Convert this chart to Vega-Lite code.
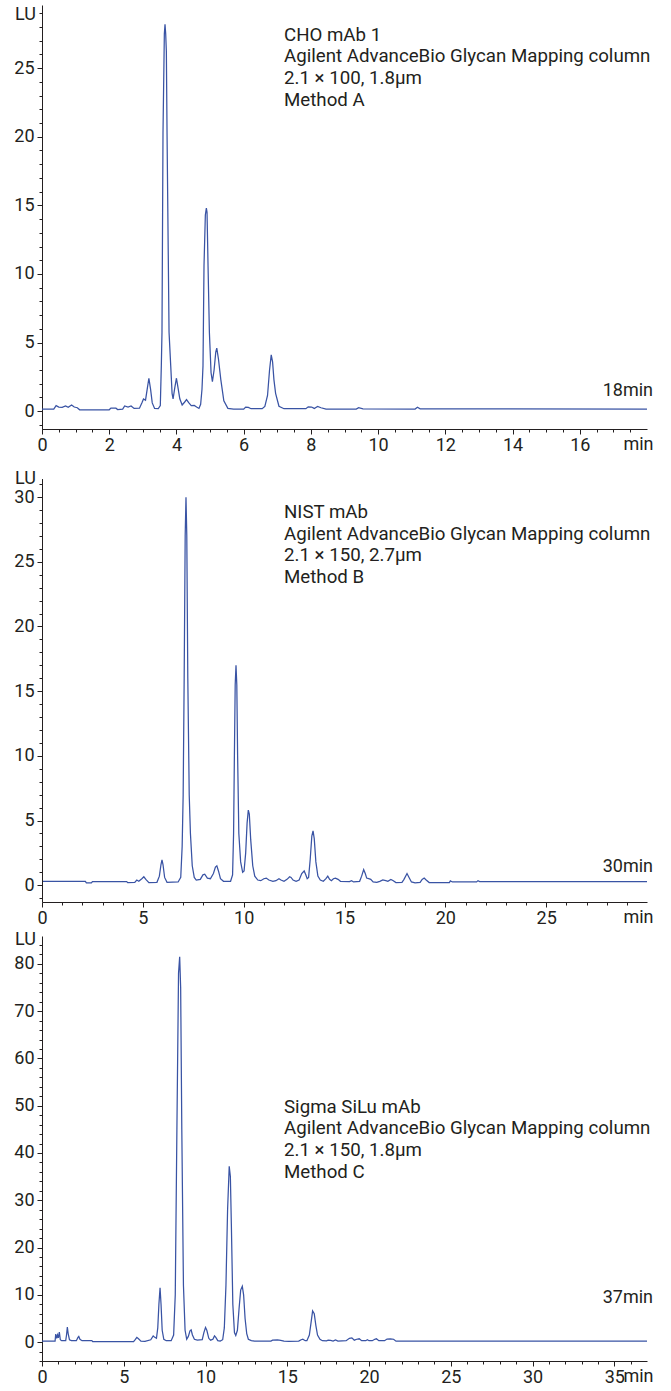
{
  "$schema": "https://vega.github.io/schema/vega-lite/v6.json",
  "padding": {"left": 13, "top": 5, "right": 5, "bottom": 5},
  "background": "white",
  "bounds": "flush",
  "spacing": 34,
  "datasets": {
    "p1": [
      {"t":0,"s":0.15},{"t":0.35,"s":0.15},{"t":0.42,"s":0.4},{"t":0.5,"s":0.3},{"t":0.6,"s":0.28},{"t":0.7,"s":0.38},{"t":0.78,"s":0.28},{"t":0.88,"s":0.45},{"t":0.96,"s":0.3},{"t":1.05,"s":0.25},{"t":1.12,"s":0.1},{"t":2.0,"s":0.1},{"t":2.05,"s":0.22},{"t":2.2,"s":0.22},{"t":2.25,"s":0.12},{"t":2.4,"s":0.15},{"t":2.46,"s":0.38},{"t":2.56,"s":0.3},{"t":2.65,"s":0.38},{"t":2.74,"s":0.2},{"t":2.9,"s":0.22},{"t":2.98,"s":0.65},{"t":3.02,"s":0.89},{"t":3.08,"s":0.8},{"t":3.13,"s":1.6},{"t":3.18,"s":2.4},{"t":3.23,"s":1.6},{"t":3.28,"s":0.6},{"t":3.35,"s":0.2},{"t":3.46,"s":0.18},{"t":3.52,"s":0.4},{"t":3.55,"s":3.3},{"t":3.57,"s":5.75},{"t":3.6,"s":20.3},{"t":3.64,"s":27.5},{"t":3.66,"s":28.2},{"t":3.68,"s":27.5},{"t":3.7,"s":26.2},{"t":3.72,"s":20.3},{"t":3.78,"s":5.75},{"t":3.83,"s":3.3},{"t":3.87,"s":1.3},{"t":3.9,"s":0.89},{"t":3.95,"s":1.7},{"t":4.0,"s":2.4},{"t":4.04,"s":1.8},{"t":4.1,"s":0.9},{"t":4.17,"s":0.45},{"t":4.24,"s":0.65},{"t":4.3,"s":0.84},{"t":4.37,"s":0.6},{"t":4.44,"s":0.4},{"t":4.53,"s":0.42},{"t":4.6,"s":0.3},{"t":4.67,"s":0.2},{"t":4.72,"s":0.5},{"t":4.76,"s":1.6},{"t":4.79,"s":3.3},{"t":4.82,"s":10.6},{"t":4.86,"s":14.3},{"t":4.89,"s":14.8},{"t":4.91,"s":14.5},{"t":4.94,"s":10.6},{"t":4.98,"s":5.75},{"t":5.03,"s":2.8},{"t":5.07,"s":2.15},{"t":5.12,"s":3.0},{"t":5.17,"s":4.3},{"t":5.2,"s":4.6},{"t":5.25,"s":3.8},{"t":5.32,"s":2.3},{"t":5.41,"s":0.75},{"t":5.53,"s":0.2},{"t":5.7,"s":0.15},{"t":6.0,"s":0.15},{"t":6.06,"s":0.3},{"t":6.14,"s":0.28},{"t":6.22,"s":0.18},{"t":6.55,"s":0.18},{"t":6.63,"s":0.35},{"t":6.71,"s":1.14},{"t":6.77,"s":3.0},{"t":6.82,"s":4.1},{"t":6.86,"s":3.6},{"t":6.9,"s":2.3},{"t":6.95,"s":1.3},{"t":7.05,"s":0.36},{"t":7.2,"s":0.18},{"t":7.85,"s":0.18},{"t":7.92,"s":0.32},{"t":8.02,"s":0.3},{"t":8.1,"s":0.2},{"t":8.2,"s":0.35},{"t":8.3,"s":0.25},{"t":8.45,"s":0.15},{"t":9.35,"s":0.15},{"t":9.42,"s":0.25},{"t":9.55,"s":0.17},{"t":11.1,"s":0.15},{"t":11.17,"s":0.28},{"t":11.25,"s":0.17},{"t":18,"s":0.15}
    ],
    "p2": [
      {"t":0,"s":0.3},{"t":2.15,"s":0.3},{"t":2.2,"s":0.18},{"t":2.45,"s":0.18},{"t":2.5,"s":0.28},{"t":4.2,"s":0.28},{"t":4.25,"s":0.2},{"t":4.6,"s":0.22},{"t":4.7,"s":0.4},{"t":4.8,"s":0.3},{"t":4.95,"s":0.5},{"t":5.05,"s":0.65},{"t":5.15,"s":0.45},{"t":5.3,"s":0.2},{"t":5.7,"s":0.22},{"t":5.82,"s":0.7},{"t":5.9,"s":1.6},{"t":5.95,"s":1.95},{"t":6.0,"s":1.6},{"t":6.08,"s":0.6},{"t":6.2,"s":0.22},{"t":6.75,"s":0.25},{"t":6.88,"s":0.6},{"t":6.95,"s":3},{"t":7.0,"s":7},{"t":7.05,"s":16},{"t":7.1,"s":27},{"t":7.14,"s":30.0},{"t":7.18,"s":27},{"t":7.23,"s":16},{"t":7.3,"s":7},{"t":7.36,"s":4},{"t":7.45,"s":1.5},{"t":7.55,"s":0.6},{"t":7.65,"s":0.4},{"t":7.85,"s":0.45},{"t":7.98,"s":0.8},{"t":8.07,"s":0.85},{"t":8.2,"s":0.55},{"t":8.35,"s":0.5},{"t":8.5,"s":0.9},{"t":8.6,"s":1.4},{"t":8.67,"s":1.5},{"t":8.75,"s":1.1},{"t":8.85,"s":0.5},{"t":9.0,"s":0.3},{"t":9.35,"s":0.3},{"t":9.45,"s":0.8},{"t":9.5,"s":4},{"t":9.54,"s":10},{"t":9.58,"s":15.5},{"t":9.62,"s":17.0},{"t":9.66,"s":15.5},{"t":9.7,"s":10},{"t":9.76,"s":4},{"t":9.85,"s":1.8},{"t":9.95,"s":1.0},{"t":10.02,"s":1.1},{"t":10.1,"s":2.5},{"t":10.17,"s":4.8},{"t":10.23,"s":5.8},{"t":10.28,"s":5.5},{"t":10.35,"s":3.5},{"t":10.45,"s":1.5},{"t":10.55,"s":0.7},{"t":10.7,"s":0.4},{"t":10.85,"s":0.35},{"t":11.0,"s":0.5},{"t":11.12,"s":0.55},{"t":11.25,"s":0.4},{"t":11.45,"s":0.3},{"t":11.6,"s":0.35},{"t":11.75,"s":0.5},{"t":11.85,"s":0.4},{"t":12.0,"s":0.3},{"t":12.15,"s":0.45},{"t":12.28,"s":0.65},{"t":12.35,"s":0.6},{"t":12.45,"s":0.4},{"t":12.6,"s":0.3},{"t":12.75,"s":0.4},{"t":12.88,"s":0.9},{"t":13.0,"s":1.1},{"t":13.08,"s":0.8},{"t":13.15,"s":0.5},{"t":13.22,"s":0.6},{"t":13.3,"s":2.0},{"t":13.38,"s":3.8},{"t":13.44,"s":4.2},{"t":13.5,"s":3.6},{"t":13.58,"s":1.8},{"t":13.68,"s":0.7},{"t":13.8,"s":0.4},{"t":13.95,"s":0.3},{"t":14.08,"s":0.5},{"t":14.17,"s":0.7},{"t":14.26,"s":0.45},{"t":14.35,"s":0.35},{"t":14.45,"s":0.5},{"t":14.55,"s":0.55},{"t":14.68,"s":0.45},{"t":14.8,"s":0.3},{"t":15.25,"s":0.28},{"t":15.35,"s":0.35},{"t":15.45,"s":0.25},{"t":15.75,"s":0.3},{"t":15.85,"s":0.7},{"t":15.95,"s":1.2},{"t":16.03,"s":0.9},{"t":16.1,"s":0.55},{"t":16.2,"s":0.5},{"t":16.3,"s":0.45},{"t":16.42,"s":0.25},{"t":16.6,"s":0.22},{"t":16.75,"s":0.3},{"t":16.9,"s":0.4},{"t":17.05,"s":0.35},{"t":17.15,"s":0.3},{"t":17.3,"s":0.45},{"t":17.42,"s":0.35},{"t":17.55,"s":0.2},{"t":17.85,"s":0.22},{"t":17.95,"s":0.45},{"t":18.1,"s":0.9},{"t":18.2,"s":0.6},{"t":18.32,"s":0.25},{"t":18.5,"s":0.18},{"t":18.75,"s":0.22},{"t":18.85,"s":0.45},{"t":18.95,"s":0.55},{"t":19.05,"s":0.4},{"t":19.2,"s":0.2},{"t":20.2,"s":0.2},{"t":20.25,"s":0.33},{"t":20.35,"s":0.25},{"t":21.55,"s":0.25},{"t":21.62,"s":0.35},{"t":21.7,"s":0.28},{"t":30,"s":0.28}
    ],
    "p3": [
      {"t":0,"s":0.2},{"t":0.8,"s":0.2},{"t":0.84,"s":1.7},{"t":0.9,"s":0.8},{"t":0.95,"s":1.5},{"t":1.0,"s":0.9},{"t":1.06,"s":2.1},{"t":1.12,"s":0.5},{"t":1.2,"s":0.3},{"t":1.45,"s":0.3},{"t":1.5,"s":1.5},{"t":1.55,"s":3.2},{"t":1.6,"s":1.8},{"t":1.68,"s":0.5},{"t":1.8,"s":0.3},{"t":2.1,"s":0.3},{"t":2.2,"s":1.0},{"t":2.25,"s":1.2},{"t":2.32,"s":0.6},{"t":2.45,"s":0.3},{"t":3.05,"s":0.3},{"t":3.1,"s":0.1},{"t":5.6,"s":0.1},{"t":5.7,"s":0.5},{"t":5.8,"s":1.0},{"t":5.9,"s":0.7},{"t":6.05,"s":0.2},{"t":6.3,"s":0.15},{"t":6.65,"s":0.5},{"t":6.8,"s":1.3},{"t":6.9,"s":1.0},{"t":7.0,"s":0.8},{"t":7.08,"s":3},{"t":7.15,"s":8},{"t":7.22,"s":11.5},{"t":7.28,"s":8},{"t":7.35,"s":2.5},{"t":7.45,"s":0.6},{"t":7.6,"s":0.3},{"t":7.9,"s":0.3},{"t":8.05,"s":1.5},{"t":8.15,"s":10},{"t":8.25,"s":45},{"t":8.35,"s":78},{"t":8.42,"s":81.5},{"t":8.48,"s":75},{"t":8.55,"s":45},{"t":8.65,"s":12},{"t":8.75,"s":2.5},{"t":8.85,"s":0.6},{"t":8.95,"s":1.2},{"t":9.05,"s":2.4},{"t":9.12,"s":2.6},{"t":9.2,"s":1.5},{"t":9.32,"s":0.6},{"t":9.5,"s":0.4},{"t":9.8,"s":0.5},{"t":9.9,"s":2.0},{"t":10.0,"s":3.1},{"t":10.08,"s":2.5},{"t":10.2,"s":0.8},{"t":10.31,"s":0.4},{"t":10.45,"s":0.6},{"t":10.55,"s":1.3},{"t":10.63,"s":1.0},{"t":10.75,"s":0.3},{"t":10.9,"s":0.2},{"t":11.05,"s":0.5},{"t":11.15,"s":3},{"t":11.25,"s":12},{"t":11.35,"s":28},{"t":11.45,"s":37.2},{"t":11.52,"s":35},{"t":11.58,"s":25},{"t":11.67,"s":8},{"t":11.77,"s":2},{"t":11.85,"s":1.4},{"t":11.95,"s":2.5},{"t":12.05,"s":7},{"t":12.15,"s":11},{"t":12.25,"s":11.8},{"t":12.33,"s":10},{"t":12.42,"s":5},{"t":12.52,"s":1.8},{"t":12.62,"s":0.6},{"t":12.8,"s":0.3},{"t":13.0,"s":0.2},{"t":14.0,"s":0.2},{"t":14.1,"s":0.4},{"t":14.4,"s":0.45},{"t":14.6,"s":0.35},{"t":14.8,"s":0.2},{"t":15.1,"s":0.15},{"t":15.7,"s":0.2},{"t":15.85,"s":0.5},{"t":15.95,"s":0.6},{"t":16.1,"s":0.3},{"t":16.2,"s":0.3},{"t":16.35,"s":1.5},{"t":16.45,"s":4},{"t":16.55,"s":6.6},{"t":16.65,"s":6},{"t":16.75,"s":3.5},{"t":16.85,"s":1.5},{"t":17.0,"s":0.6},{"t":17.15,"s":0.3},{"t":17.4,"s":0.25},{"t":17.5,"s":0.4},{"t":17.65,"s":0.35},{"t":17.8,"s":0.2},{"t":17.95,"s":0.45},{"t":18.1,"s":0.2},{"t":18.6,"s":0.3},{"t":18.8,"s":0.8},{"t":18.95,"s":0.9},{"t":19.1,"s":0.4},{"t":19.25,"s":0.6},{"t":19.4,"s":0.7},{"t":19.55,"s":0.3},{"t":19.8,"s":0.3},{"t":19.9,"s":0.5},{"t":20.0,"s":0.3},{"t":20.2,"s":0.3},{"t":20.35,"s":0.6},{"t":20.45,"s":0.7},{"t":20.6,"s":0.3},{"t":20.95,"s":0.3},{"t":21.1,"s":0.65},{"t":21.3,"s":0.7},{"t":21.5,"s":0.6},{"t":21.65,"s":0.2},{"t":37,"s":0.2}
    ]
  },
  "vconcat": [
    {
      "width": 605, "height": 424,
      "resolve": {"axis": {"x": "independent", "y": "independent"}},
      "layer": [
        {
          "data": {"name": "p1"},
          "mark": {"type": "line", "color": "#3953a4", "strokeWidth": 1.25},
          "encoding": {
            "x": {"field": "t", "type": "quantitative", "scale": {"domain": [0, 18], "nice": false, "zero": false},
              "axis": {"orient": "bottom", "values": [0,2,4,6,8,10,12,14,16], "tickSize": 5, "labelPadding": 2, "title": "min", "titleX": 611, "titleY": 20.7, "titleAlign": "right", "titleBaseline": "alphabetic"}},
            "y": {"field": "s", "type": "quantitative", "scale": {"domain": [-1.3, 29.6], "nice": false, "zero": false},
              "axis": {"orient": "left", "values": [0,5,10,15,20,25], "tickSize": 5, "labelPadding": 3, "title": "LU", "titleAngle": 0, "titleX": -6.5, "titleY": 14, "titleAlign": "right", "titleBaseline": "alphabetic"}}
          }
        },
        {
          "data": {"values": [{}]},
          "mark": {"type": "text", "align": "left", "baseline": "alphabetic", "lineHeight": 21.7, "fontSize": 18.7,
            "text": ["CHO mAb 1", "Agilent AdvanceBio Glycan Mapping column", "2.1 × 100, 1.8µm", "Method A"]},
          "encoding": {
            "x": {"datum": 7.2, "type": "quantitative", "scale": {"domain": [0, 18], "nice": false, "zero": false},
              "axis": {"orient": "bottom", "values": [0,0.5,1,1.5,2,2.5,3,3.5,4,4.5,5,5.5,6,6.5,7,7.5,8,8.5,9,9.5,10,10.5,11,11.5,12,12.5,13,13.5,14,14.5,15,15.5,16,16.5,17,17.5], "tickSize": 3, "labels": false, "domain": false, "title": null}},
            "y": {"datum": 27.0, "type": "quantitative", "scale": {"domain": [-1.3, 29.6], "nice": false, "zero": false},
              "axis": {"orient": "left", "values": [-1,0,1,2,3,4,5,6,7,8,9,10,11,12,13,14,15,16,17,18,19,20,21,22,23,24,25,26,27,28,29], "tickSize": 3, "labels": false, "domain": false, "title": null}}
          }
        },
        {
          "data": {"values": [{}]},
          "mark": {"type": "text", "align": "right", "baseline": "alphabetic", "dx": 6, "text": "18min"},
          "encoding": {
            "x": {"datum": 18, "type": "quantitative", "axis": null},
            "y": {"datum": 1.12, "type": "quantitative", "axis": null}
          }
        }
      ]
    },
    {
      "width": 605, "height": 439,
      "resolve": {"axis": {"x": "independent", "y": "independent"}},
      "layer": [
        {
          "data": {"name": "p2"},
          "mark": {"type": "line", "color": "#3953a4", "strokeWidth": 1.25},
          "encoding": {
            "x": {"field": "t", "type": "quantitative", "scale": {"domain": [0, 30], "nice": false, "zero": false},
              "axis": {"orient": "bottom", "values": [0,5,10,15,20,25], "tickSize": 5, "labelPadding": 2, "title": "min", "titleX": 611, "titleY": 20.7, "titleAlign": "right", "titleBaseline": "alphabetic"}},
            "y": {"field": "s", "type": "quantitative", "scale": {"domain": [-1.3, 32.64], "nice": false, "zero": false},
              "axis": {"orient": "left", "values": [0,5,10,15,20,25,30], "tickSize": 5, "labelPadding": 3, "domain": false, "title": "LU", "titleAngle": 0, "titleX": -6.5, "titleY": 20.5, "titleAlign": "right", "titleBaseline": "alphabetic"}}
          }
        },
        {
          "data": {"values": [{}]},
          "mark": {"type": "rule", "color": "#231f20", "strokeWidth": 1, "xOffset": 0.5},
          "encoding": {
            "x": {"datum": 0, "type": "quantitative", "axis": null},
            "y": {"datum": -1.3, "type": "quantitative", "axis": null},
            "y2": {"datum": 31.4}
          }
        },
        {
          "data": {"values": [{}]},
          "mark": {"type": "text", "align": "left", "baseline": "alphabetic", "lineHeight": 21.7, "fontSize": 18.7,
            "text": ["NIST mAb", "Agilent AdvanceBio Glycan Mapping column", "2.1 × 150, 2.7µm", "Method B"]},
          "encoding": {
            "x": {"datum": 12.0, "type": "quantitative", "scale": {"domain": [0, 30], "nice": false, "zero": false},
              "axis": {"orient": "bottom", "values": [0,1,2,3,4,5,6,7,8,9,10,11,12,13,14,15,16,17,18,19,20,21,22,23,24,25,26,27,28,29], "tickSize": 3, "labels": false, "domain": false, "title": null}},
            "y": {"datum": 28.4, "type": "quantitative", "scale": {"domain": [-1.3, 32.64], "nice": false, "zero": false},
              "axis": {"orient": "left", "values": [-1,0,1,2,3,4,5,6,7,8,9,10,11,12,13,14,15,16,17,18,19,20,21,22,23,24,25,26,27,28,29,30,31], "tickSize": 3, "labels": false, "domain": false, "title": null}}
          }
        },
        {
          "data": {"values": [{}]},
          "mark": {"type": "text", "align": "right", "baseline": "alphabetic", "dx": 6, "text": "30min"},
          "encoding": {
            "x": {"datum": 30, "type": "quantitative", "axis": null},
            "y": {"datum": 1.0, "type": "quantitative", "axis": null}
          }
        }
      ]
    },
    {
      "width": 605, "height": 425,
      "resolve": {"axis": {"x": "independent", "y": "independent"}},
      "layer": [
        {
          "data": {"name": "p3"},
          "mark": {"type": "line", "color": "#3953a4", "strokeWidth": 1.25},
          "encoding": {
            "x": {"field": "t", "type": "quantitative", "scale": {"domain": [0, 37], "nice": false, "zero": false},
              "axis": {"orient": "bottom", "values": [0,5,10,15,20,25,30,35], "tickSize": 5, "labelPadding": 2, "title": "min", "titleX": 611, "titleY": 20.7, "titleAlign": "right", "titleBaseline": "alphabetic"}},
            "y": {"field": "s", "type": "quantitative", "scale": {"domain": [-4, 85.9], "nice": false, "zero": false},
              "axis": {"orient": "left", "values": [0,10,20,30,40,50,60,70,80], "tickSize": 5, "labelPadding": 3, "title": "LU", "titleAngle": 0, "titleX": -6.5, "titleY": 8.3, "titleAlign": "right", "titleBaseline": "alphabetic"}}
          }
        },
        {
          "data": {"values": [{}]},
          "mark": {"type": "text", "align": "left", "baseline": "alphabetic", "lineHeight": 21.7, "fontSize": 18.7,
            "text": ["Sigma SiLu mAb", "Agilent AdvanceBio Glycan Mapping column", "2.1 × 150, 1.8µm", "Method C"]},
          "encoding": {
            "x": {"datum": 14.8, "type": "quantitative", "scale": {"domain": [0, 37], "nice": false, "zero": false},
              "axis": {"orient": "bottom", "values": [0,1,2,3,4,5,6,7,8,9,10,11,12,13,14,15,16,17,18,19,20,21,22,23,24,25,26,27,28,29,30,31,32,33,34,35,36], "tickSize": 3, "labels": false, "domain": false, "title": null}},
            "y": {"datum": 48.5, "type": "quantitative", "scale": {"domain": [-4, 85.9], "nice": false, "zero": false},
              "axis": {"orient": "left", "values": [-4,-2,0,2,4,6,8,10,12,14,16,18,20,22,24,26,28,30,32,34,36,38,40,42,44,46,48,50,52,54,56,58,60,62,64,66,68,70,72,74,76,78,80,82,84], "tickSize": 3, "labels": false, "domain": false, "title": null}}
          }
        },
        {
          "data": {"values": [{}]},
          "mark": {"type": "text", "align": "right", "baseline": "alphabetic", "dx": 6, "text": "37min"},
          "encoding": {
            "x": {"datum": 37, "type": "quantitative", "axis": null},
            "y": {"datum": 8.26, "type": "quantitative", "axis": null}
          }
        }
      ]
    }
  ],
  "config": {
    "view": {"stroke": null},
    "axis": {"grid": false, "domainColor": "#231f20", "tickColor": "#231f20", "labelColor": "#231f20", "titleColor": "#231f20",
      "labelFont": "Roboto", "titleFont": "Roboto", "labelFontSize": 18, "titleFontSize": 18, "titleFontWeight": "normal",
      "labelFlush": false, "labelOverlap": false, "domainWidth": 1, "tickWidth": 1},
    "text": {"font": "Roboto", "fontSize": 18, "color": "#231f20"}
  }
}
